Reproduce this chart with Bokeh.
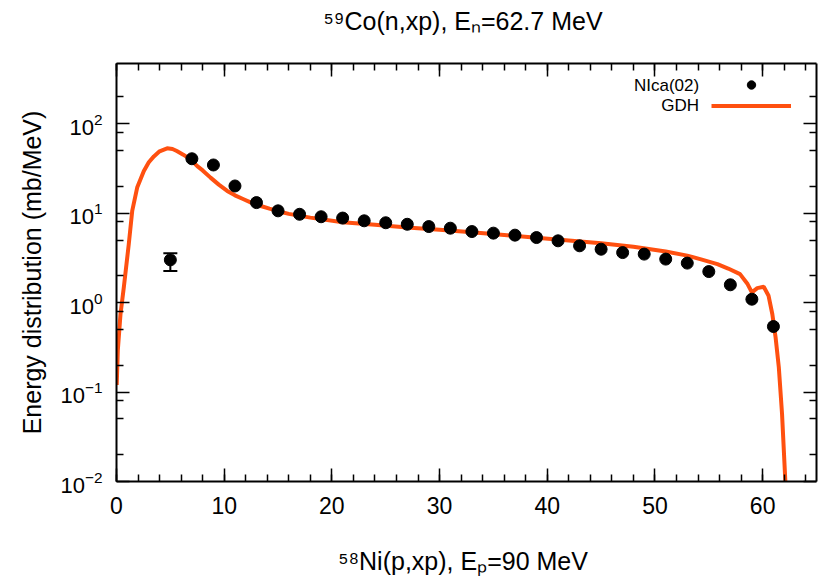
from bokeh.plotting import figure
from bokeh.models import (ColumnDataSource, Whisker, TeeHead, FixedTicker, SingleIntervalTicker,
                          LinearAxis, LogAxis, Legend, LegendItem, CustomJSTickFormatter, Label)
from bokeh.embed import file_html
from bokeh.resources import INLINE

# ---- data ----
exp_x = [5, 7, 9, 11, 13, 15, 17, 19, 21, 23, 25, 27, 29, 31, 33, 35, 37, 39, 41, 43, 45,
         47, 49, 51, 53, 55, 57, 59, 61]
exp_y = [3.0, 40.5, 34.5, 20.1, 13.1, 10.6, 9.7, 9.1, 8.8, 8.2, 7.8, 7.5, 7.07, 6.78, 6.22,
         5.97, 5.67, 5.33, 4.90, 4.31, 3.95, 3.62, 3.48, 3.06, 2.76, 2.22, 1.58, 1.09, 0.54]
err_x = [5]
err_lo = [2.25]
err_hi = [3.55]

gdh_x = [0.02, 0.12, 0.37, 0.68, 1.14, 1.46, 1.92, 2.54, 3.0, 3.47, 4.0, 4.7, 5.2, 5.6, 6.2,
         6.87, 7.5, 8.0, 8.73, 9.5, 10.28, 11.0, 11.8, 12.5, 13.4, 14.2, 15.0, 16.0, 18.0, 21.0,
         24.0, 27.0, 30.0, 33.0, 36.0, 39.0, 42.0, 45.0, 48.0, 51.0, 53.0, 54.2, 55.8, 56.8,
         57.9, 58.6, 59.0, 59.5, 60.1, 60.55, 60.9, 61.2, 61.5, 61.8, 62.1, 62.25]
gdh_y = [0.12, 0.29, 0.74, 1.48, 4.5, 10.6, 19.3, 29.6, 37.0, 43.0, 49.0, 53.0, 52.0, 49.4,
         45.0, 39.9, 33.5, 30.0, 24.9, 20.8, 17.7, 15.8, 14.3, 13.1, 12.0, 11.2, 10.5, 9.8,
         8.9, 7.9, 7.4, 6.9, 6.5, 6.1, 5.7, 5.3, 4.95, 4.6, 4.2, 3.72, 3.35, 3.06, 2.69, 2.4,
         2.08, 1.61, 1.30, 1.45, 1.50, 1.19, 0.74, 0.41, 0.19, 0.057, 0.0105, 0.004]

x_major = 10
y_major = [0.01, 0.1, 1, 10, 100]
y_minor = [0.02, 0.05, 0.08, 0.2, 0.5, 0.8, 2, 5, 8, 20, 50, 80, 200]

title_text = "\u2075\u2079Co(n,xp),  E\u2099=62.7 MeV"
xlabel_text = "\u2075\u2078Ni(p,xp),  E\u209a=90 MeV"
ylabel_text = "Energy distribution (mb/MeV)"
legend_labels = ["NIca(02)", "GDH"]

FONT = "Liberation Sans"
ORANGE = "#ff5010"

p = figure(width=818, height=584, x_range=(0, 65), y_range=(0.01, 470), y_axis_type="log",
           output_backend="svg", toolbar_location=None,
           min_border_left=116, min_border_right=2, min_border_top=63, min_border_bottom=103)

p.title.text = ""
p.title.standoff = 0
p.title.visible = False

p.grid.visible = False
p.outline_line_color = None
p.background_fill_color = "white"
p.border_fill_color = "white"

curve = p.line(gdh_x, gdh_y, line_color=ORANGE, line_width=4)

src_err = ColumnDataSource(dict(x=err_x, lo=err_lo, hi=err_hi))
wh = Whisker(base="x", lower="lo", upper="hi", source=src_err, line_color="black", line_width=2,
             upper_head=TeeHead(size=14, line_width=2, line_color="black"),
             lower_head=TeeHead(size=14, line_width=2, line_color="black"))
p.add_layout(wh)
pts = p.scatter(exp_x, exp_y, size=12, color="black")

blank = CustomJSTickFormatter(code="return ''")


def style_axis(ax, labels=True, font_size="23px"):
    ax.axis_line_color = "black"
    ax.axis_line_width = 2
    ax.major_tick_in = 13
    ax.major_tick_out = 0
    ax.minor_tick_in = 7
    ax.minor_tick_out = 0
    ax.major_tick_line_color = "black"
    ax.minor_tick_line_color = "black"
    ax.major_tick_line_width = 1.5
    ax.minor_tick_line_width = 1.5
    ax.major_label_text_font = FONT
    ax.major_label_text_color = "black"
    ax.major_label_text_font_size = font_size
    ax.axis_label_text_font = FONT
    ax.axis_label_text_font_size = "25px"
    ax.axis_label_text_font_style = "normal"
    ax.axis_label_text_color = "black"
    if not labels:
        ax.formatter = blank
        ax.major_label_standoff = 0


xa = p.xaxis[0]
xa.ticker = SingleIntervalTicker(interval=x_major, num_minor_ticks=5)
style_axis(xa, True, "23px")
xa.major_label_standoff = 15
xa.axis_label = xlabel_text
xa.axis_label_standoff = 30

ya = p.yaxis[0]
ya.ticker = FixedTicker(ticks=y_major, minor_ticks=y_minor)
style_axis(ya, True, "22px")
ya.major_label_standoff = 14
ya.axis_label = ylabel_text
ya.axis_label_standoff = 11

# top axis: mirrored ticks, and it carries the chart title above them
top = LinearAxis(ticker=SingleIntervalTicker(interval=x_major, num_minor_ticks=5))
style_axis(top, False)
top.axis_label = title_text
top.axis_label_standoff = 29
p.add_layout(top, "above")

right = LogAxis(ticker=FixedTicker(ticks=y_major, minor_ticks=y_minor))
style_axis(right, False)
p.add_layout(right, "right")

# legend samples (glyphs) drawn by Bokeh's Legend; texts placed to their left, as in gnuplot
legend = Legend(items=[LegendItem(label="", renderers=[pts]),
                       LegendItem(label="", renderers=[curve])],
                location=(595, 365), orientation="vertical",
                glyph_width=80, glyph_height=21, spacing=0, label_standoff=0,
                label_text_font=FONT, label_text_font_size="17px",
                background_fill_alpha=0, border_line_color=None, padding=0, margin=0)
p.add_layout(legend)

legend_text_x = 54.1          # right edge of legend texts (data units)
legend_text_y = [266, 158]    # row centres (data units)
for txt, yy in zip(legend_labels, legend_text_y):
    p.add_layout(Label(x=legend_text_x, y=yy, text=txt, text_align="right",
                       text_baseline="middle", text_font=FONT, text_font_size="17px",
                       text_color="black"))

open("out.html", "w").write(file_html(p, INLINE))
